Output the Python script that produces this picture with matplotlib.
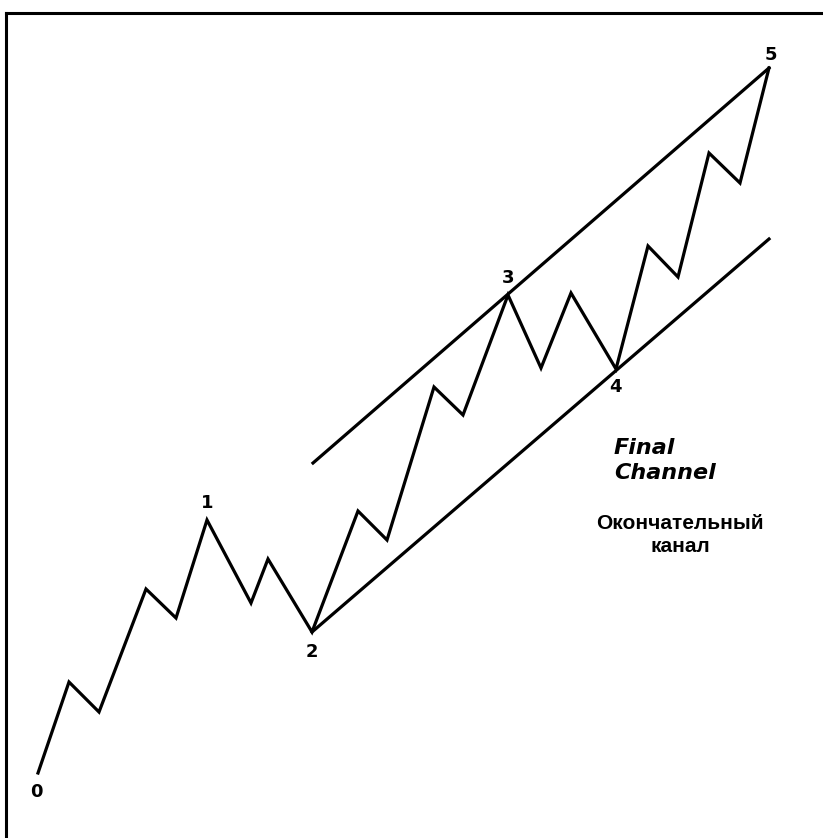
import matplotlib
matplotlib.use("Agg")
import matplotlib.pyplot as plt

# Wave path (x = time, y = price level)
wave_x = [38, 69, 99, 146, 176, 207, 251, 268, 312, 358, 387, 434, 463,
          508, 541, 571, 616, 648, 678, 709, 740, 769]
wave_y = [65, 156, 126, 249, 220, 318, 235, 279, 206, 327, 298, 451, 423,
          543, 470, 545, 469, 592, 561, 685, 655, 770]

# Channel lines (start, end)
upper_x = [313, 769]
upper_y = [375, 770]
lower_x = [312, 769]
lower_y = [206, 599]

# Wave count labels
label_text = ["0", "1", "2", "3", "4", "5"]
label_x = [36, 207, 312, 508, 615, 771]
label_y = [46, 335, 186, 560, 451, 783]

fig = plt.figure(figsize=(8.23, 8.38), dpi=100)
ax = fig.add_axes([6 / 823, 0, 817 / 823, 825 / 838])
ax.set_xlim(6, 823)
ax.set_ylim(0, 825)
ax.set_xticks([])
ax.set_yticks([])
ax.spines["right"].set_visible(False)
ax.spines["bottom"].set_visible(False)
ax.spines["top"].set_linewidth(2.2)
ax.spines["left"].set_linewidth(2.2)

ax.plot(wave_x, wave_y, color="black", lw=2.3, solid_joinstyle="miter")
ax.plot(upper_x, upper_y, color="black", lw=2.3)
ax.plot(lower_x, lower_y, color="black", lw=2.3)

for t, x, y in zip(label_text, label_x, label_y):
    ax.text(x, y, t, ha="center", va="center", fontsize=13,
            fontweight="bold", family="DejaVu Sans")

ax.text(614, 400, "Final\nChannel", ha="left", va="top", fontsize=16,
        fontweight="bold", style="italic", family="DejaVu Sans",
        linespacing=1.3)
ax.text(680, 303, "Окончательный\nканал", ha="center", va="center",
        fontsize=15, fontweight="bold", family="Liberation Sans",
        linespacing=1.25)

fig.savefig("out.png", dpi=100)
